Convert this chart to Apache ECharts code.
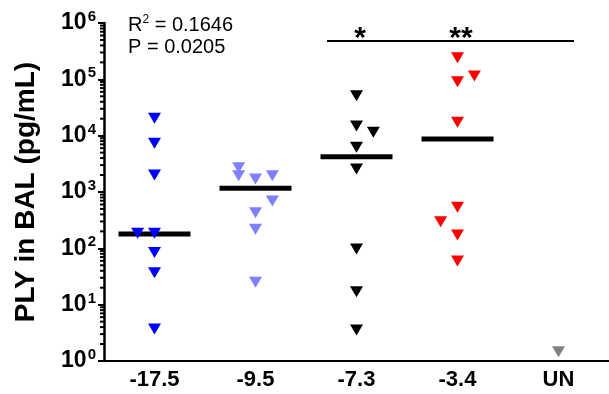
<!DOCTYPE html>
<html><head><meta charset="utf-8">
<script src="https://cdn.jsdelivr.net/npm/echarts@6/dist/echarts.min.js"></script>
<style>html,body{margin:0;padding:0;background:#fff}#c{width:609px;height:394px}</style>
</head><body><div id="c"></div>
<script>
const categories = ['-17.5', '-9.5', '-7.3', '-3.4', 'UN'];
// values per group (pg/mL) and jitter slot (-1 left, 0 centre, 1 right)
const g1Values = [20400, 7300, 2000, 185, 185, 84, 37, 3.7];
const g1Slots  = [0, 0, 0, -1, 0, 0, 0, 0];
const g2Values = [2700, 1950, 1700, 1950, 690, 430, 218, 25];
const g2Slots  = [-1, -1, 0, 1, 1, 0, 0, 0];
const g3Values = [51000, 14800, 11500, 6200, 2560, 97, 17, 3.55];
const g3Slots  = [0, 0, 1, 0, 0, 0, 0, 0];
const g4Values = [241000, 115000, 91000, 17300, 535, 297, 173, 59.6];
const g4Slots  = [0, 1, 0, 0, 0, -1, 0, 0];
const unValues = [1.46];
const unSlots  = [0];
const medians  = [180, 1170, 4240, 8700];
const decades  = [1, 10, 100, 1000, 10000, 100000];
const minorMultipliers = [2, 3, 4, 5, 6, 7, 8, 9];
const statsText = ['R{sup|2} = 0.1646', 'P = 0.0205'];
const sigMarks = ['*', '**'];

const groupColors = ['#0000ff', '#8080ff', '#000000', '#ff0000', '#808080'];
const spread = 0.167;
const FONT = 'Liberation Sans, Arial, sans-serif';

function pts(idx, vals, slots) {
  return vals.map((v, i) => [idx + slots[i] * spread, v]);
}
const groups = [[g1Values, g1Slots], [g2Values, g2Slots], [g3Values, g3Slots], [g4Values, g4Slots], [unValues, unSlots]];
const minorTickValues = [];
decades.forEach(d => minorMultipliers.forEach(m => minorTickValues.push([-0.5, d * m])));

const chart = echarts.init(document.getElementById('c'));
const series = [];
series.push({
  type: 'custom', xAxisIndex: 1, yAxisIndex: 0, silent: true, clip: false, z: 3,
  data: minorTickValues,
  renderItem: (params, api) => {
    const p = api.coord([api.value(0), api.value(1)]);
    return { type: 'line', shape: { x1: p[0] - 4, y1: p[1], x2: p[0], y2: p[1] }, style: { stroke: '#000', lineWidth: 2 } };
  }
});
series.push({
  type: 'scatter', xAxisIndex: 1, yAxisIndex: 0,
  symbol: 'rect', symbolSize: [72, 5], z: 1, silent: true,
  itemStyle: { color: '#000', opacity: 1 },
  data: medians.map((m, i) => [i, m])
});
groups.forEach((g, i) => {
  series.push({
    type: 'scatter', xAxisIndex: 1, yAxisIndex: 0,
    symbol: 'triangle', symbolRotate: 180, symbolSize: [13, 11], z: 2,
    itemStyle: { color: groupColors[i], opacity: 1 },
    data: pts(i, g[0], g[1])
  });
});

chart.setOption({
  animation: false,
  grid: { left: 104, top: 23, width: 510, bottom: 33, containLabel: false },
  xAxis: [{
    type: 'category', data: categories, boundaryGap: true,
    axisLine: { onZero: false, lineStyle: { color: '#000', width: 2 } },
    axisTick: { alignWithLabel: true, length: 6, lineStyle: { color: '#000', width: 2 } },
    axisLabel: { color: '#000', fontFamily: FONT, fontWeight: 'bold', fontSize: 22, margin: 8 },
    splitLine: { show: false }
  }, {
    type: 'value', min: -0.5, max: 4.5, show: false
  }],
  yAxis: [{
    type: 'log', logBase: 10, min: 1, max: 1000000,
    axisLine: { show: true, onZero: false, lineStyle: { color: '#000', width: 2.5 } },
    axisTick: { show: true, length: 6, lineStyle: { color: '#000', width: 2 } },
    minorTick: { show: false },
    splitLine: { show: false },
    axisLabel: {
      margin: 8,
      formatter: v => '{b|10}{s|' + Math.round(Math.log10(v)) + '}',
      rich: {
        b: { fontFamily: FONT, fontWeight: 'bold', fontSize: 23, color: '#000' },
        s: { fontFamily: FONT, fontWeight: 'bold', fontSize: 15, color: '#000', verticalAlign: 'top', padding: [0, 0, 12, 1] }
      }
    },
    name: 'PLY in BAL (pg/mL)', nameLocation: 'middle', nameGap: 64, nameRotate: 90,
    nameTextStyle: { fontFamily: FONT, fontWeight: 'bold', fontSize: 28, color: '#000' }
  }],
  graphic: [
    { type: 'text', left: 128, top: 14, style: { text: statsText[0], fontFamily: FONT, fontSize: 20, fill: '#000',
      rich: { sup: { fontSize: 12, verticalAlign: 'top', padding: [0, 0, 10, 0], fontFamily: FONT } } } },
    { type: 'text', left: 128, top: 37, style: { text: statsText[1], fontFamily: FONT, fontSize: 20, fill: '#000' } },
    { type: 'line', shape: { x1: 327, y1: 41, x2: 574, y2: 41 }, style: { stroke: '#000', lineWidth: 2 } },
    { type: 'text', x: 360, y: 24, style: { text: sigMarks[0], align: 'center', verticalAlign: 'top', fontFamily: FONT, fontWeight: 'bold', fontSize: 30, fill: '#000' } },
    { type: 'text', x: 461, y: 24, style: { text: sigMarks[1], align: 'center', verticalAlign: 'top', fontFamily: FONT, fontWeight: 'bold', fontSize: 30, fill: '#000' } }
  ],
  series: series
});
</script></body></html>
